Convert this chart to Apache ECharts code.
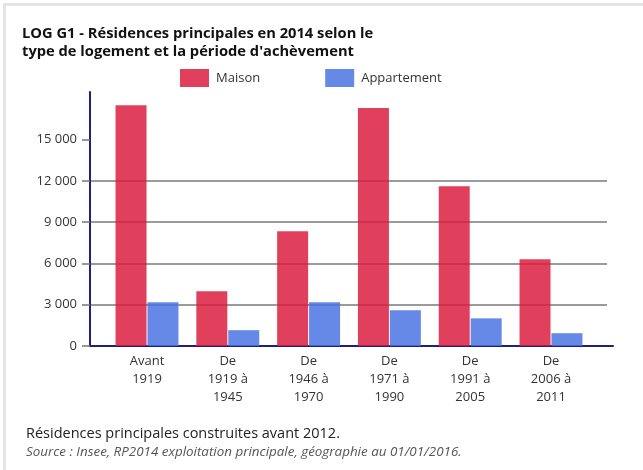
<!DOCTYPE html>
<html>
<head>
<meta charset="utf-8">
<script src="https://cdn.jsdelivr.net/npm/echarts@6/dist/echarts.min.js"></script>
<style>
  html, body { margin: 0; padding: 0; background: #fff; }
  #frame {
    position: absolute; left: 3px; top: 3px; right: 0; bottom: 0;
    border-top: 3px solid #e4e4e4; border-left: 3px solid #e4e4e4;
  }
  #chart { position: absolute; left: 0; top: 0; width: 643px; height: 470px; }
</style>
</head>
<body>
<div id="frame"></div>
<div id="chart"></div>
<script>
// périodes d'achèvement
const categories = ['Avant\n1919', 'De\n1919 à\n1945', 'De\n1946 à\n1970', 'De\n1971 à\n1990', 'De\n1991 à\n2005', 'De\n2006 à\n2011']
const maison = [17500, 3980, 8350, 17300, 11620, 6310]
const appartement = [3180, 1150, 3180, 2600, 2010, 930]
const yTicks = [0, 3000, 6000, 9000, 12000, 15000]
const yMax = 18470

const font = '"Open Sans", "Noto Sans", sans-serif'
const navy = '#1f1f80'

const chart = echarts.init(document.getElementById('chart'))
chart.setOption({
  animation: false,
  textStyle: { fontFamily: font },
  title: {
    text: 'LOG G1 - Résidences principales en 2014 selon le\ntype de logement et la période d\'achèvement',
    left: 17, top: 20,
    textStyle: { fontFamily: font, fontSize: 14.7, fontWeight: 'bold', color: '#111', lineHeight: 18 }
  },
  legend: {
    left: 175, top: 64,
    icon: 'rect', itemWidth: 29, itemHeight: 18, itemGap: 65,
    textStyle: { fontFamily: font, fontSize: 13, color: '#333', padding: [0, 0, 0, 2] },
    data: ['Maison', 'Appartement']
  },
  grid: [
    // quadrillage + graduations
    { left: 90, right: 36, top: 92, bottom: 124 },
    // lignes d'axe
    { left: 90, right: 30, top: 92, bottom: 124 },
    // barres
    { left: 106.6, right: 51.6, top: 92, bottom: 124 }
  ],
  xAxis: [
    { gridIndex: 0, type: 'category', data: [''], show: false },
    { gridIndex: 1, type: 'category', data: [''], axisLine: { lineStyle: { color: navy, width: 2 } }, axisTick: { show: false }, axisLabel: { show: false } },
    {
      gridIndex: 2, type: 'category', data: categories,
      axisLine: { show: false }, axisTick: { show: false },
      axisLabel: { margin: 6, fontFamily: font, fontSize: 13, color: '#333', lineHeight: 18, interval: 0 }
    }
  ],
  yAxis: [
    {
      gridIndex: 0, type: 'value', min: 0, max: yMax,
      axisLine: { show: false },
      axisTick: { show: true, length: 8, customValues: yTicks, lineStyle: { color: '#777', width: 1.5 } },
      axisLabel: {
        customValues: yTicks, margin: 13, fontFamily: font, fontSize: 13, color: '#333',
        formatter: v => String(v).replace(/\B(?=(\d{3})+(?!\d))/g, ' ')
      },
      splitLine: { show: true, showMaxLine: false, lineStyle: { color: '#7a7a7a', width: 1.5 } }
    },
    {
      gridIndex: 1, type: 'value', min: 0, max: yMax,
      axisLine: { show: true, lineStyle: { color: navy, width: 2 } },
      axisTick: { show: false }, axisLabel: { show: false }, splitLine: { show: false }
    },
    { gridIndex: 2, type: 'value', min: 0, max: yMax, show: false }
  ],
  series: [
    {
      name: 'Maison', type: 'bar', xAxisIndex: 2, yAxisIndex: 2,
      data: maison, barWidth: 31, barGap: '3%',
      itemStyle: { color: '#dc1e41', opacity: 0.85 }
    },
    {
      name: 'Appartement', type: 'bar', xAxisIndex: 2, yAxisIndex: 2,
      data: appartement, barWidth: 31, barGap: '3%',
      itemStyle: { color: '#4b73e2', opacity: 0.85 }
    }
  ],
  graphic: [
    {
      type: 'text', left: 26, top: 426,
      style: { text: 'Résidences principales construites avant 2012.', font: '14.5px ' + font, fill: '#222' }
    },
    {
      type: 'text', left: 26, top: 446,
      style: { text: 'Source : Insee, RP2014 exploitation principale, géographie au 01/01/2016.', font: 'italic 13.4px ' + font, fill: '#555' }
    }
  ]
})
</script>
</body>
</html>
